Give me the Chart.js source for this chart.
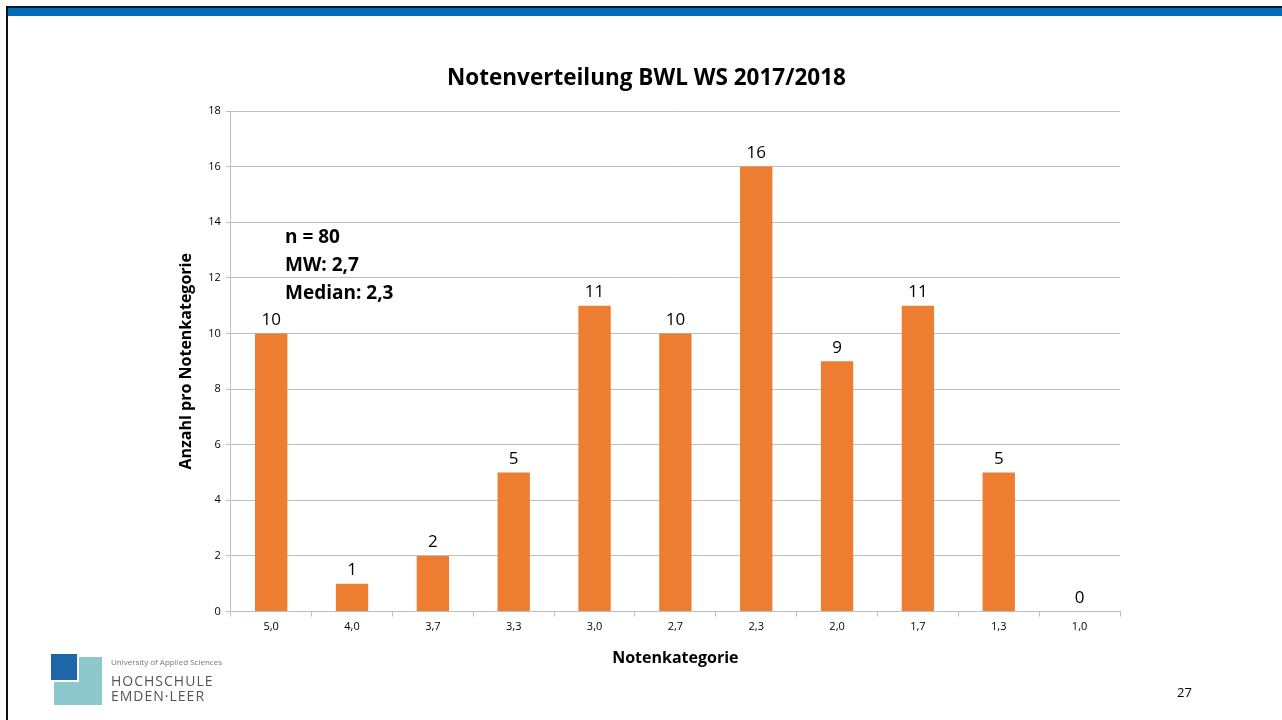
<!DOCTYPE html>
<html>
<head>
<meta charset="utf-8">
<script src="https://cdn.jsdelivr.net/npm/chart.js@4/dist/chart.umd.min.js"></script>
<style>
  body { margin: 0; background: #fff; font-family: "Open Sans", "Liberation Sans", sans-serif; }
  #slide { position: relative; width: 1282px; height: 720px; overflow: hidden; background: #fff; }
  #topline { position: absolute; left: 6px; top: 6px; right: 0; height: 2px; background: #0a1a2a; }
  #band { position: absolute; left: 8px; top: 8px; right: 0; height: 8px; background: #006db8; }
  #leftline { position: absolute; left: 6px; top: 6px; width: 2px; bottom: 0; background: #111; }
  #wrap { position: absolute; left: 0; top: 0; width: 1282px; height: 720px; }
  .note { position: absolute; left: 285px; font-weight: bold; font-size: 19px; color: #000; line-height: 28px; }
  #pagenum { position: absolute; left: 1177px; top: 683px; font-size: 13px; color: #000; }
  #logo-teal { position: absolute; left: 54px; top: 657px; width: 48px; height: 48px; background: #8dc8cc; }
  #logo-blue { position: absolute; left: 51px; top: 654px; width: 26px; height: 26px; background: #1f66a8; border-right: 2px solid #fff; border-bottom: 2px solid #fff; }
  #logo-t1 { position: absolute; left: 111px; top: 656px; font-size: 8px; color: #777; }
  #logo-t2 { position: absolute; left: 111px; top: 671px; font-size: 14px; color: #555; letter-spacing: 1px; }
  #logo-t3 { position: absolute; left: 111px; top: 686px; font-size: 14px; color: #555; letter-spacing: 1px; }
</style>
</head>
<body>
<div id="slide">
  <div id="wrap"><canvas id="myChart" width="1282" height="720"></canvas></div>
  <div id="topline"></div>
  <div id="band"></div>
  <div id="leftline"></div>
  <div class="note" style="top:222px">n = 80<br>MW: 2,7<br>Median: 2,3</div>
  <div id="logo-teal"></div>
  <div id="logo-blue"></div>
  <div id="logo-t1">University of Applied Sciences</div>
  <div id="logo-t2">HOCHSCHULE</div>
  <div id="logo-t3">EMDEN·LEER</div>
  <div id="pagenum">27</div>
</div>
<script>
const grades = ["5,0", "4,0", "3,7", "3,3", "3,0", "2,7", "2,3", "2,0", "1,7", "1,3", "1,0"];
const counts = [10, 1, 2, 5, 11, 10, 16, 9, 11, 5, 0];
const yTicks = [0, 2, 4, 6, 8, 10, 12, 14, 16, 18];

const fontFamily = '"Open Sans", "Liberation Sans", sans-serif';

// draws the number above each bar
const barLabels = {
  id: 'barLabels',
  afterDatasetsDraw(chart) {
    const ctx = chart.ctx;
    const meta = chart.getDatasetMeta(0);
    ctx.save();
    ctx.font = '17px ' + fontFamily;
    ctx.fillStyle = '#000';
    ctx.textAlign = 'center';
    ctx.textBaseline = 'bottom';
    meta.data.forEach(function(bar, i) {
      ctx.fillText(String(counts[i]), bar.x, bar.y - 5);
    });
    ctx.restore();
  }
};

let myChart = new Chart(document.getElementById('myChart'), {
  type: 'bar',
  data: {
    labels: grades,
    datasets: [{
      label: 'Anzahl',
      data: counts,
      backgroundColor: '#ed7d31',
      borderWidth: 0,
      barPercentage: 0.4,
      categoryPercentage: 1.0
    }]
  },
  options: {
    responsive: false,
    animation: false,
    layout: { padding: { left: 173, right: 162, top: 65, bottom: 48 } },
    plugins: {
      legend: { display: false },
      tooltip: { enabled: false },
      title: {
        display: true,
        text: 'Notenverteilung BWL WS 2017/2018',
        color: '#000',
        font: { family: fontFamily, size: 22.5, weight: 'bold' },
        padding: { top: 0, bottom: 19 }
      }
    },
    scales: {
      x: {
        offset: true,
        grid: { offset: true, drawOnChartArea: false, drawTicks: true, tickLength: 5, color: '#bfbfbf' },
        border: { color: '#bfbfbf', width: 1 },
        ticks: { color: '#000', font: { family: fontFamily, size: 11 }, padding: 4, maxRotation: 0 },
        title: { display: true, text: 'Notenkategorie', color: '#000', font: { family: fontFamily, size: 16, weight: 'bold' }, padding: { top: 11 } }
      },
      y: {
        min: 0,
        max: 18,
        afterBuildTicks(axis) { axis.ticks = yTicks.map(v => ({ value: v })); },
        grid: { color: '#bfbfbf', tickLength: 5 },
        border: { color: '#bfbfbf', width: 1 },
        ticks: { color: '#000', font: { family: fontFamily, size: 11 }, padding: 5 },
        title: { display: true, text: 'Anzahl pro Notenkategorie', color: '#000', font: { family: fontFamily, size: 16, weight: 'bold' }, padding: { bottom: 7 } }
      }
    }
  },
  plugins: [barLabels]
});
</script>
</body>
</html>
